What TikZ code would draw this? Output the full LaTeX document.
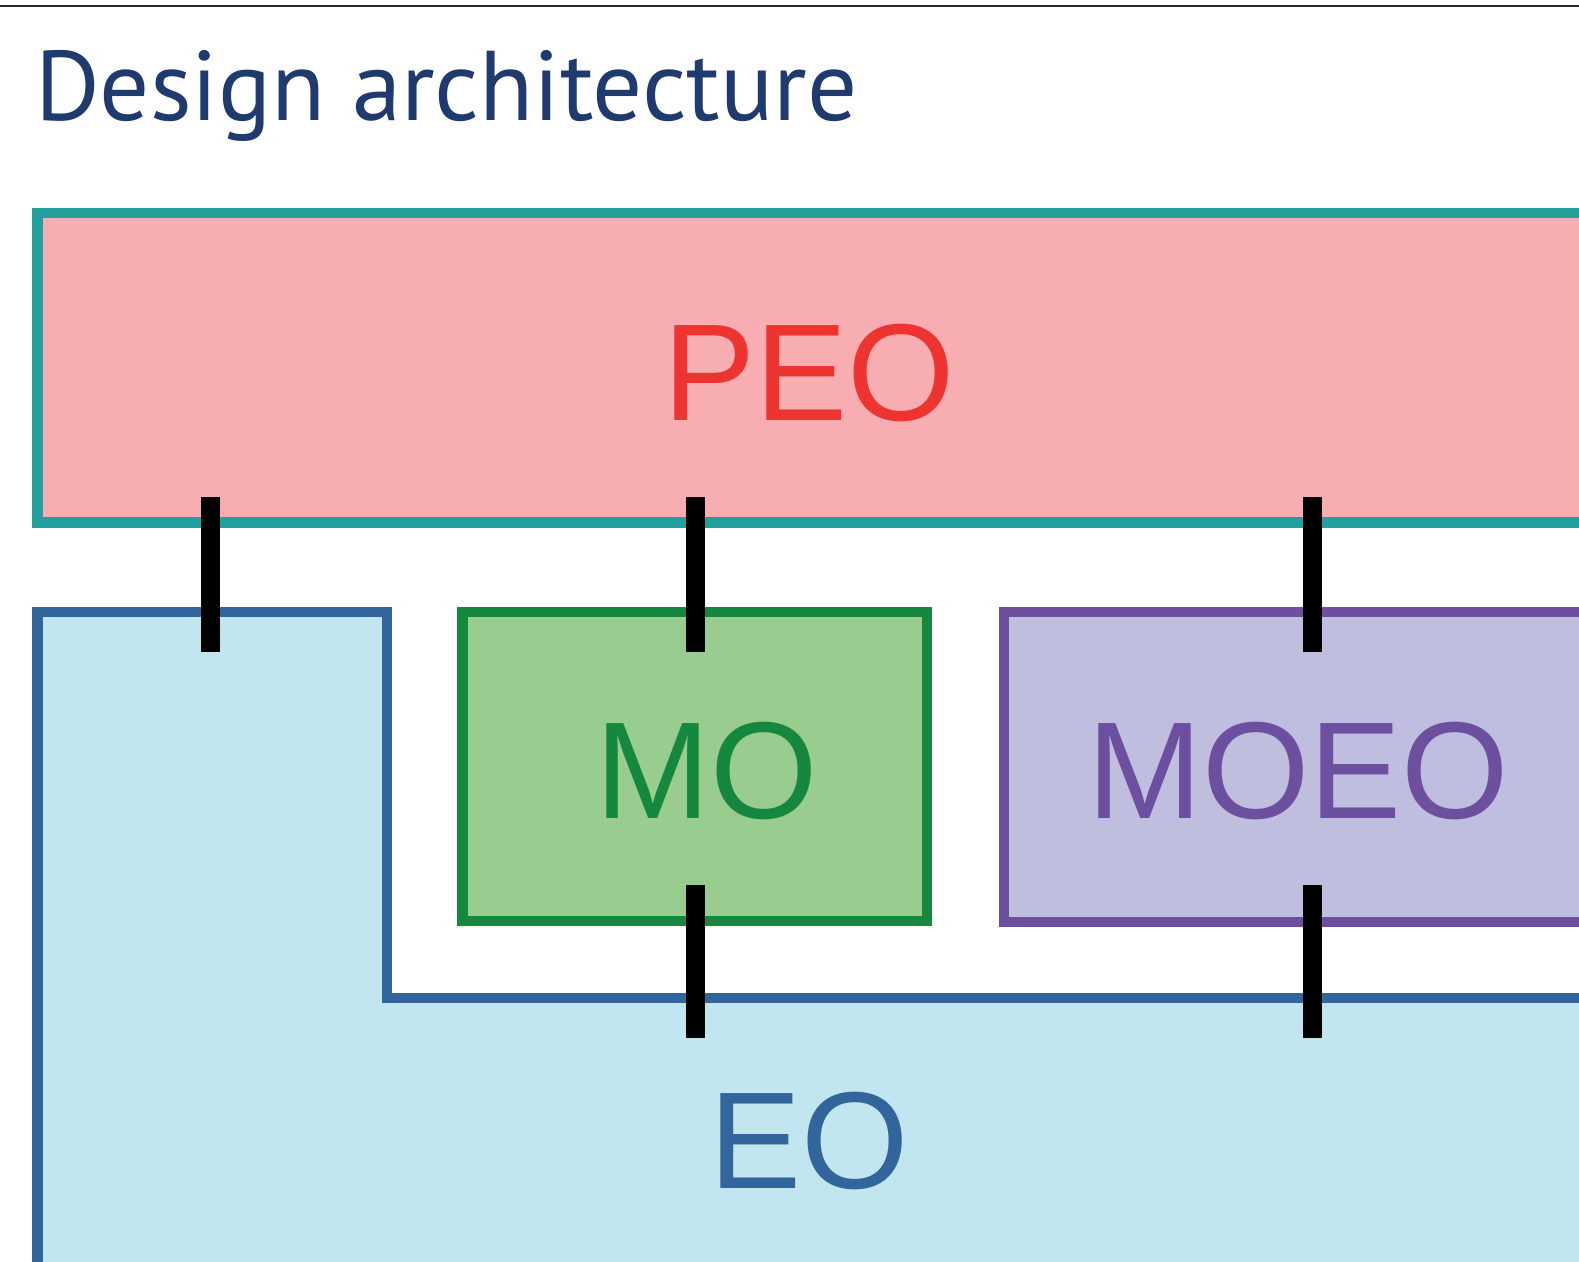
\documentclass[tikz,border=0pt]{standalone}
\usepackage{fontspec}
\setmainfont{Liberation Sans}
\newfontfamily\titlefont{PT Sans}
\definecolor{ruleGray}{HTML}{2A2A2A}
\definecolor{titleBlue}{HTML}{1F3A6E}
\definecolor{peoFill}{HTML}{F7ADB1}
\definecolor{peoLine}{HTML}{23A09D}
\definecolor{peoText}{HTML}{EE3430}
\definecolor{moFill}{HTML}{98CD8F}
\definecolor{moLine}{HTML}{16873F}
\definecolor{moeoFill}{HTML}{BFBEDF}
\definecolor{moeoLine}{HTML}{6C4F9E}
\definecolor{eoFill}{HTML}{C2E6EF}
\definecolor{eoLine}{HTML}{31659C}
\begin{document}
\begin{tikzpicture}[x=1pt,y=-1pt,
  box/.style={draw,line width=10.5pt,inner sep=0pt,outer sep=0pt,anchor=north west},
  lbl/.style={font=\fontsize{138}{138}\selectfont,inner sep=0pt,anchor=base},
  bar/.style={line width=19pt,black,line cap=butt}]
\useasboundingbox (0,0) rectangle (1579,1261);
\clip (0,0) rectangle (1579,1261);
\fill[white] (0,0) rectangle (1579,1261);
% rule along the top and heading
\draw[ruleGray,line width=2.8pt] (0,6) -- (1579,6);
\node[anchor=base west,inner sep=0pt,text=titleBlue,
      font=\titlefont\fontsize{99}{99}\selectfont] (title) at (35,120) {Design architecture};
% EO: stepped outline around the MO/MOEO row
\draw[line width=10.5pt,draw=eoLine,fill=eoFill]
  (37.5,1300) -- (37.5,612) -- (387,612) -- (387,998) -- (1620,998) -- (1620,1300) -- cycle;
\coordinate (eotop) at (37.5,612);
\coordinate (eonotch) at (387,998);
\node[lbl,text=eoLine] (eo) at (809,1188) {EO};
% PEO, MO and MOEO boxes
\node[box,draw=peoLine,fill=peoFill,minimum width=1562.5pt,minimum height=309.5pt] (peo) at (37.5,213) {};
\node[box,draw=moLine,fill=moFill,minimum width=464.5pt,minimum height=309pt] (mo) at (462.5,612) {};
\node[box,draw=moeoLine,fill=moeoFill,minimum width=620pt,minimum height=310pt] (moeo) at (1004,612) {};
\node[lbl,text=peoText] (peolbl) at (809,420) {PEO};
\node[lbl,text=moLine] (molbl) at (707,818) {MO};
\node[lbl,text=moeoLine] (moeolbl) at (1298,818) {MOEO};
% connector columns
\coordinate (c1) at (210,0);
\coordinate (c2) at (695,0);
\coordinate (c3) at (1312,0);
\draw[bar,shorten <=-25.5pt,shorten >=-40pt] (peo.south -| c1) -- (eotop -| c1);
\draw[bar,shorten <=-25.5pt,shorten >=-40pt] (peo.south -| c2) -- (mo.north -| c2);
\draw[bar,shorten <=-25.5pt,shorten >=-40pt] (peo.south -| c3) -- (moeo.north -| c3);
\draw[bar,shorten <=-36pt,shorten >=-40pt] (mo.south -| c2) -- (eonotch -| c2);
\draw[bar,shorten <=-37pt,shorten >=-40pt] (moeo.south -| c3) -- (eonotch -| c3);
\end{tikzpicture}
\end{document}
